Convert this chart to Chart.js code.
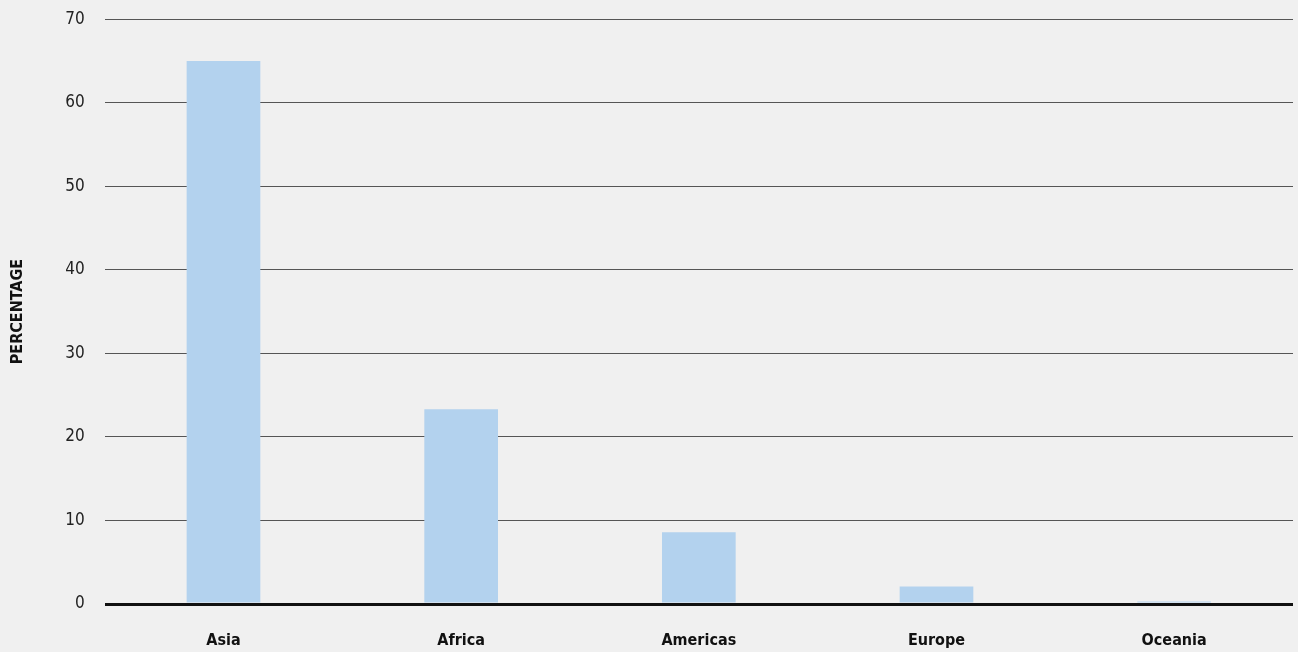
<!DOCTYPE html>
<html>
<head>
<meta charset="utf-8">
<script src="https://cdn.jsdelivr.net/npm/chart.js@4"></script>
<style>
  html, body { margin: 0; padding: 0; background: #f0f0f0; overflow: hidden; }
  #wrap { width: 1298px; height: 652px; overflow: hidden; }
  #chart { display: block; margin-top: -11px; }
</style>
</head>
<body>
<div id="wrap"><canvas id="chart" width="1298" height="663"></canvas></div>
<script>
const regions = ['Asia', 'Africa', 'Americas', 'Europe', 'Oceania'];
const shares = [65.0, 23.3, 8.6, 2.1, 0.3];

const fam = '"DejaVu Sans Condensed", "Liberation Sans Narrow", "Roboto", sans-serif';

new Chart(document.getElementById('chart'), {
    type: 'bar',
    data: {
        labels: regions,
        datasets: [{
            data: shares,
            backgroundColor: '#b3d2ee',
            borderWidth: 0,
            categoryPercentage: 1,
            barPercentage: 0.31
        }]
    },
    options: {
        responsive: false,
        animation: false,
        layout: { padding: { left: 8, right: 5, top: 0, bottom: 0 } },
        plugins: {
            legend: { display: false },
            tooltip: { enabled: false }
        },
        scales: {
            x: {
                grid: { display: false },
                border: { display: false },
                afterFit: scale => { scale.height = 48; },
                ticks: {
                    color: '#111',
                    padding: 19,
                    maxRotation: 0,
                    minRotation: 0,
                    font: { family: fam, size: 16, weight: 'bold' }
                }
            },
            y: {
                min: 0,
                max: 70,
                ticks: {
                    stepSize: 10,
                    color: '#222',
                    padding: 20,
                    font: { family: fam, size: 17 }
                },
                border: { display: false },
                grid: {
                    drawTicks: false,
                    color: ctx => ctx.tick && ctx.tick.value === 0 ? '#111' : '#555',
                    lineWidth: ctx => ctx.tick && ctx.tick.value === 0 ? 3 : 1
                },
                title: {
                    display: true,
                    text: 'PERCENTAGE',
                    color: '#111',
                    padding: { top: 0, bottom: 18 },
                    font: { family: fam, size: 16, weight: 'bold' }
                }
            }
        }
    }
});
</script>
</body>
</html>
